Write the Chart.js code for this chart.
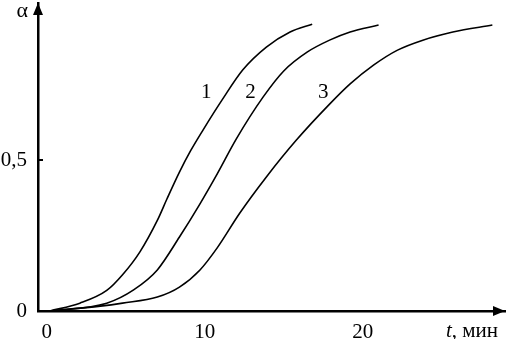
<!DOCTYPE html>
<html>
<head>
<meta charset="utf-8">
<script src="https://cdn.jsdelivr.net/npm/chart.js@4"></script>
<style>
  body { margin: 0; background: #fff; }
</style>
</head>
<body>
<canvas id="kineticsChart" width="507" height="339"></canvas>
<script>
// curve 1
const t1 = [0.2, 2.1, 3.8, 4.8, 5.9, 7.0, 7.6, 8.4, 9.1, 9.9, 11.1, 12.4, 13.9, 15.4, 16.8];
const a1 = [0, 0.026, 0.068, 0.12, 0.196, 0.3, 0.37, 0.46, 0.53, 0.6, 0.699, 0.798, 0.874, 0.924, 0.95];
// curve 2
const t2 = [0.2, 3.8, 5.5, 7.0, 8.4, 9.7, 10.8, 12.0, 13.7, 15.0, 16.5, 17.9, 19.2, 21.0];
const a2 = [0, 0.026, 0.07, 0.136, 0.245, 0.355, 0.455, 0.57, 0.709, 0.795, 0.858, 0.897, 0.924, 0.947];
// curve 3
const t3 = [0.2, 3.4, 4.8, 7.0, 8.4, 9.7, 10.8, 12.2, 13.9, 15.8, 17.9, 19.2, 20.7, 22.2, 23.8, 25.7, 28.2];
const a3 = [0, 0.016, 0.026, 0.046, 0.079, 0.136, 0.21, 0.323, 0.444, 0.566, 0.685, 0.752, 0.815, 0.864, 0.897, 0.924, 0.947];

const xTicks = [0, 10, 20];
const yTicks = [0, 0.5];

// curve numbers, placed in data units
const curveNames = ["1", "2", "3"];
const nameT = [10.1, 12.9, 17.5];
const nameA = [0.722, 0.722, 0.722];

const serif = "'Liberation Serif', 'DejaVu Serif', serif";

function toPoints(xs, ys) {
  return xs.map((x, i) => ({ x: x, y: ys[i] }));
}

function curve(xs, ys) {
  return {
    data: toPoints(xs, ys),
    borderColor: "#000",
    borderWidth: 1.6,
    pointRadius: 0,
    fill: false,
    cubicInterpolationMode: "monotone",
  };
}

const extras = {
  id: "extras",
  afterDraw(chart) {
    const ctx = chart.ctx;
    const area = chart.chartArea;
    const xs = chart.scales.x;
    const ys = chart.scales.y;
    ctx.save();
    ctx.fillStyle = "#000";
    ctx.strokeStyle = "#000";

    // arrow heads
    ctx.beginPath();
    ctx.moveTo(area.left, area.top);
    ctx.lineTo(area.left - 5, area.top + 12);
    ctx.lineTo(area.left + 5, area.top + 12);
    ctx.closePath();
    ctx.fill();
    ctx.beginPath();
    ctx.moveTo(area.right, area.bottom);
    ctx.lineTo(area.right - 12, area.bottom - 5);
    ctx.lineTo(area.right - 12, area.bottom + 5);
    ctx.closePath();
    ctx.fill();

    // small inner tick at 0,5
    ctx.lineWidth = 2;
    const y5 = ys.getPixelForValue(0.5);
    ctx.beginPath();
    ctx.moveTo(area.left, y5);
    ctx.lineTo(area.left + 5, y5);
    ctx.stroke();

    // axis names
    ctx.font = "22px " + serif;
    ctx.textBaseline = "alphabetic";
    ctx.textAlign = "right";
    ctx.fillText("α", area.left - 10, area.top + 14);
    ctx.textAlign = "left";
    ctx.font = "italic 21px " + serif;
    ctx.fillText("t", 446, 337);
    const tw = ctx.measureText("t").width;
    ctx.font = "21px " + serif;
    ctx.fillText(", мин", 446 + tw, 337);

    // curve numbers
    ctx.textAlign = "center";
    ctx.textBaseline = "middle";
    curveNames.forEach((n, i) => {
      ctx.fillText(n, xs.getPixelForValue(nameT[i]), ys.getPixelForValue(nameA[i]));
    });
    ctx.restore();
  },
};

function noEdgePadding(scale) {
  scale.paddingTop = 0;
  scale.paddingBottom = 0;
  scale.paddingLeft = 0;
  scale.paddingRight = 0;
}

new Chart(document.getElementById("kineticsChart"), {
  type: "line",
  data: {
    datasets: [curve(t1, a1), curve(t2, a2), curve(t3, a3)],
  },
  options: {
    responsive: false,
    animation: false,
    layout: { padding: { top: 3, right: 2, left: 0, bottom: 0 } },
    plugins: {
      legend: { display: false },
      tooltip: { enabled: false },
    },
    scales: {
      x: {
        type: "linear",
        min: -0.55,
        max: 29.0,
        afterBuildTicks(scale) {
          scale.ticks = xTicks.map((v) => ({ value: v }));
        },
        afterFit(scale) {
          scale.height = 28;
          noEdgePadding(scale);
        },
        grid: { drawOnChartArea: false, drawTicks: false },
        border: { display: true, color: "#000", width: 2.5 },
        ticks: {
          color: "#000",
          padding: 9,
          maxRotation: 0,
          font: { family: serif, size: 21 },
        },
      },
      y: {
        type: "linear",
        min: 0,
        max: 1.02,
        afterBuildTicks(scale) {
          scale.ticks = yTicks.map((v) => ({ value: v }));
        },
        afterFit(scale) {
          scale.width = 38;
          noEdgePadding(scale);
        },
        grid: { drawOnChartArea: false, drawTicks: false },
        border: { display: true, color: "#000", width: 2.5 },
        ticks: {
          color: "#000",
          padding: 11,
          font: { family: serif, size: 21 },
          callback: (v) => String(v).replace(".", ","),
        },
      },
    },
  },
  plugins: [extras],
});
</script>
</body>
</html>
